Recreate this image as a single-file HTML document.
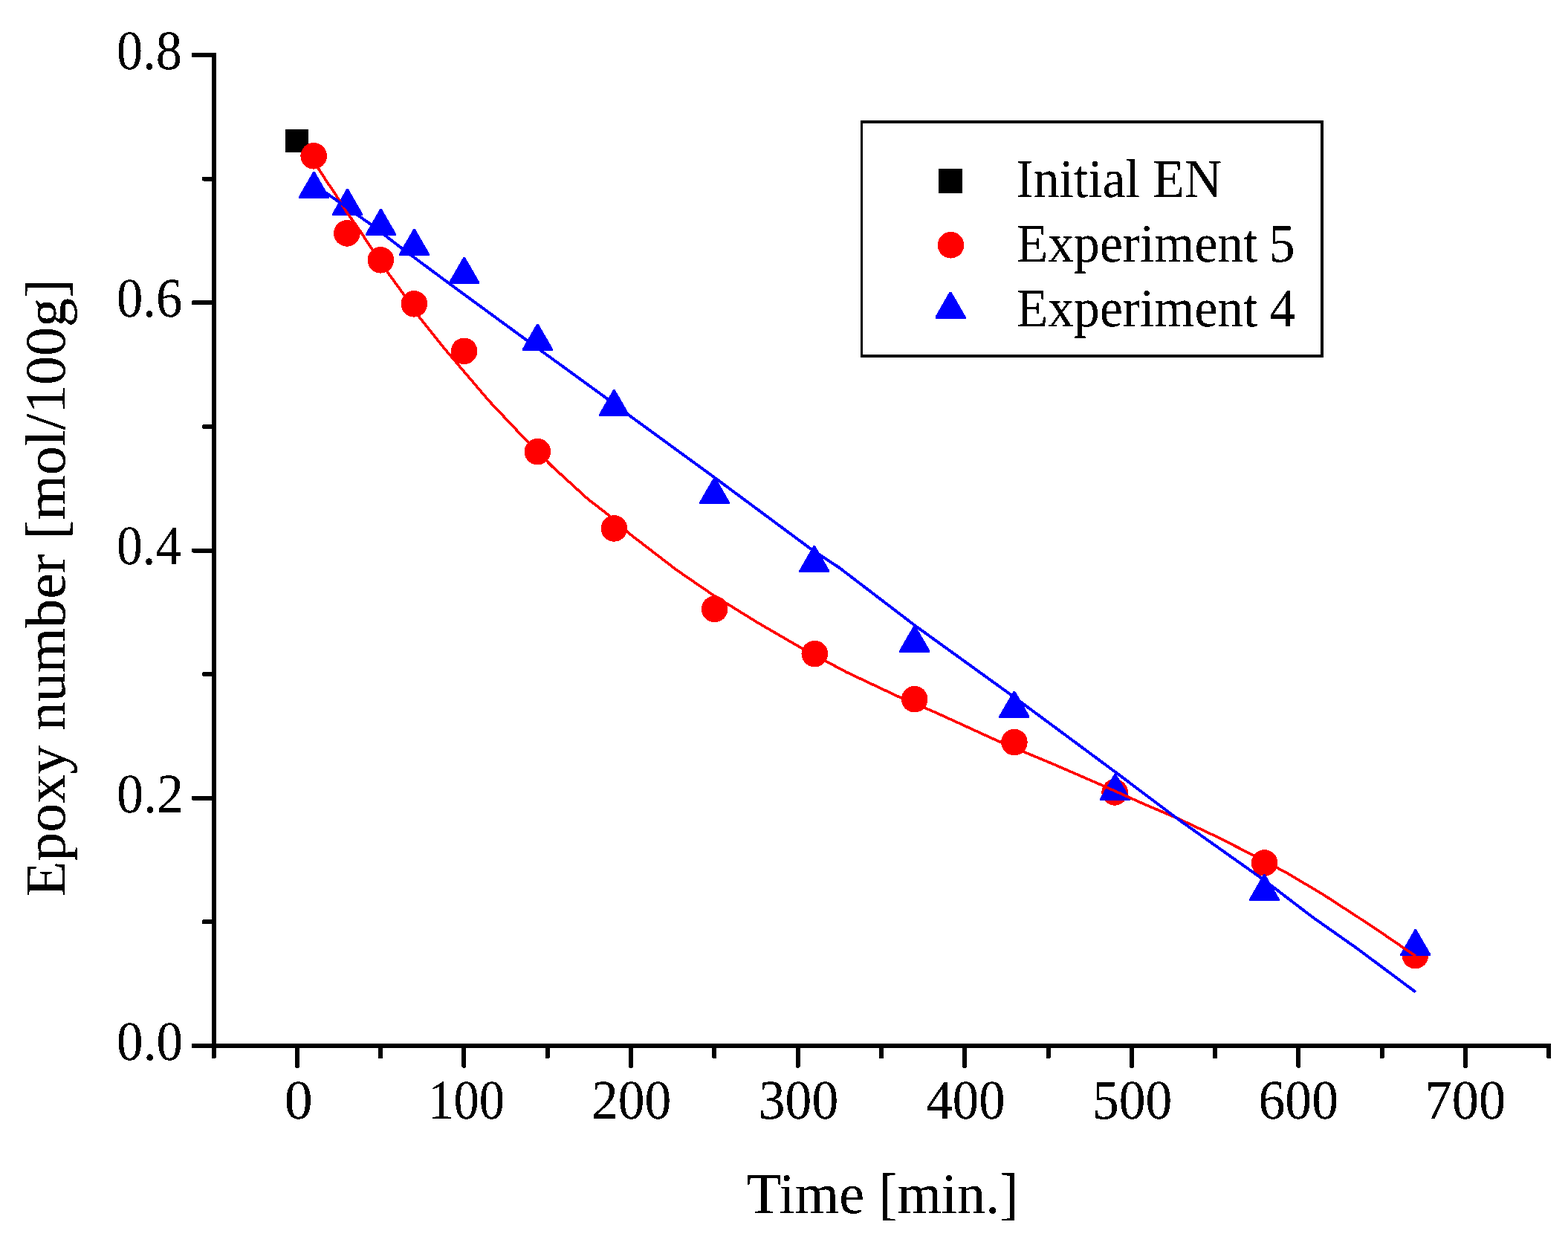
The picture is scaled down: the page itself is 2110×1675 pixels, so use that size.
<!DOCTYPE html>
<html lang="en">
<head>
<meta charset="utf-8">
<title>Epoxy number vs. time</title>
<style>
html,body{margin:0;padding:0;background:#fff;}
body{width:2110px;height:1675px;overflow:hidden;}
svg{display:block;}
</style>
</head>
<body>
<svg width="2110" height="1675" viewBox="0 0 2110 1675" shape-rendering="crispEdges">
<defs><filter id="crisp" filterUnits="userSpaceOnUse" x="0" y="0" width="2110" height="1675" color-interpolation-filters="sRGB"><feComponentTransfer><feFuncA type="discrete" tableValues="0 0 1 1 1"/></feComponentTransfer></filter></defs>
<rect x="0" y="0" width="2110" height="1675" fill="#fff"/>
<g id="markers">
<rect x="384.0" y="174.0" width="31" height="31" fill="#000"/>
<circle cx="422.2" cy="209.8" r="17.8" fill="#f00"/>
<circle cx="466.9" cy="313.9" r="17.8" fill="#f00"/>
<circle cx="512.4" cy="349.8" r="17.8" fill="#f00"/>
<circle cx="557.4" cy="408.8" r="17.8" fill="#f00"/>
<circle cx="624.6" cy="472.3" r="17.8" fill="#f00"/>
<circle cx="723.4" cy="607.7" r="17.8" fill="#f00"/>
<circle cx="826.4" cy="710.9" r="17.8" fill="#f00"/>
<circle cx="961.6" cy="819.4" r="17.8" fill="#f00"/>
<circle cx="1096.3" cy="879.6" r="17.8" fill="#f00"/>
<circle cx="1230.7" cy="940.7" r="17.8" fill="#f00"/>
<circle cx="1364.9" cy="998.6" r="17.8" fill="#f00"/>
<circle cx="1500.1" cy="1065.9" r="17.8" fill="#f00"/>
<circle cx="1701.6" cy="1161.0" r="17.8" fill="#f00"/>
<circle cx="1904.4" cy="1285.6" r="17.8" fill="#f00"/>
<polygon points="421.3,231.0 423.7,231.0 443.0,264.5 443.0,267.0 402.0,267.0 402.0,264.5" fill="#00f"/>
<polygon points="466.3,254.0 468.7,254.0 488.0,287.5 488.0,290.0 447.0,290.0 447.0,287.5" fill="#00f"/>
<polygon points="511.3,281.0 513.7,281.0 533.0,314.5 533.0,317.0 492.0,317.0 492.0,314.5" fill="#00f"/>
<polygon points="556.3,308.0 558.7,308.0 578.0,341.5 578.0,344.0 537.0,344.0 537.0,341.5" fill="#00f"/>
<polygon points="623.5,346.0 625.9,346.0 645.2,379.5 645.2,382.0 604.2,382.0 604.2,379.5" fill="#00f"/>
<polygon points="722.2,435.8 724.6,435.8 743.9,469.3 743.9,471.8 702.9,471.8 702.9,469.3" fill="#00f"/>
<polygon points="825.2,524.2 827.6,524.2 846.9,557.7 846.9,560.2 805.9,560.2 805.9,557.7" fill="#00f"/>
<polygon points="960.4,642.3 962.8,642.3 982.1,675.8 982.1,678.3 941.1,678.3 941.1,675.8" fill="#00f"/>
<polygon points="1094.6,734.2 1097.0,734.2 1116.3,767.7 1116.3,770.2 1075.3,770.2 1075.3,767.7" fill="#00f"/>
<polygon points="1229.5,841.6 1231.9,841.6 1251.2,875.1 1251.2,877.6 1210.2,877.6 1210.2,875.1" fill="#00f"/>
<polygon points="1363.7,929.8 1366.1,929.8 1385.4,963.3 1385.4,965.8 1344.4,965.8 1344.4,963.3" fill="#00f"/>
<polygon points="1499.4,1041.0 1501.8,1041.0 1521.1,1074.5 1521.1,1077.0 1480.1,1077.0 1480.1,1074.5" fill="#00f"/>
<polygon points="1700.2,1176.3 1702.6,1176.3 1721.9,1209.8 1721.9,1212.3 1680.9,1212.3 1680.9,1209.8" fill="#00f"/>
<polygon points="1903.6,1250.3 1906.0,1250.3 1925.3,1283.8 1925.3,1286.3 1884.3,1286.3 1884.3,1283.8" fill="#00f"/>
</g>
<g id="lines">
<polyline points="422.3,212.0 429.2,227.9 439.0,243.1 449.3,258.2 458.0,271.9 468.6,288.6 474.2,296.1 485.6,312.2 497.9,331.2 521.6,366.3 532.0,380.5 541.5,393.7 564.6,427.0 598.3,469.2 658.0,539.3 705.1,589.2 743.3,627.8 791.0,671.3 819.7,693.5 848.3,719.0 910.4,766.8 959.7,800.6 1019.4,837.6 1079.1,872.2 1138.8,904.2 1210.4,937.9 1258.2,958.2 1341.7,996.4 1419.4,1028.9 1491.0,1060.0 1538.8,1081.5 1586.5,1101.8 1634.3,1124.3 1682.0,1148.3 1729.8,1173.4 1780.0,1203.1 1797.9,1214.8 1824.8,1232.2 1860.6,1256.0 1887.4,1274.3 1904.6,1286.0" fill="none" stroke="#f00" stroke-width="3.6" stroke-linejoin="round"/>
<polyline points="437.9,258.9 499.0,301.9 541.0,334.3 604.1,381.1 709.8,458.5 814.9,534.9 848.3,560.0 958.2,640.0 1091.9,739.1 1129.2,763.6 1230.7,841.2 1363.2,936.8 1410.0,971.4 1500.6,1038.5 1586.5,1103.0 1701.1,1184.1 1766.4,1234.0 1825.7,1275.7 1904.8,1334.6" fill="none" stroke="#00f" stroke-width="3.9" stroke-linejoin="round"/>
</g>
<g id="axes" fill="#000">
<rect x="284.9" y="70.9" width="6.0" height="1339.1"/>
<rect x="284.9" y="1404.0" width="1802.4" height="6.0"/>
<rect x="258.0" y="1404.0" width="29.9" height="6.0" rx="1.5"/>
<rect x="272.3" y="1237.4" width="15.6" height="6.0" rx="1.5"/>
<rect x="258.0" y="1070.7" width="29.9" height="6.0" rx="1.5"/>
<rect x="272.3" y="904.1" width="15.6" height="6.0" rx="1.5"/>
<rect x="258.0" y="737.5" width="29.9" height="6.0" rx="1.5"/>
<rect x="272.3" y="570.8" width="15.6" height="6.0" rx="1.5"/>
<rect x="258.0" y="404.2" width="29.9" height="6.0" rx="1.5"/>
<rect x="272.3" y="237.5" width="15.6" height="6.0" rx="1.5"/>
<rect x="258.0" y="70.9" width="29.9" height="6.0" rx="1.5"/>
<rect x="284.5" y="1407.0" width="6.0" height="17.0" rx="1.5"/>
<rect x="396.8" y="1407.0" width="6.0" height="29.6" rx="1.5"/>
<rect x="509.1" y="1407.0" width="6.0" height="17.0" rx="1.5"/>
<rect x="621.4" y="1407.0" width="6.0" height="29.6" rx="1.5"/>
<rect x="733.7" y="1407.0" width="6.0" height="17.0" rx="1.5"/>
<rect x="846.0" y="1407.0" width="6.0" height="29.6" rx="1.5"/>
<rect x="958.3" y="1407.0" width="6.0" height="17.0" rx="1.5"/>
<rect x="1070.6" y="1407.0" width="6.0" height="29.6" rx="1.5"/>
<rect x="1182.9" y="1407.0" width="6.0" height="17.0" rx="1.5"/>
<rect x="1295.2" y="1407.0" width="6.0" height="29.6" rx="1.5"/>
<rect x="1407.5" y="1407.0" width="6.0" height="17.0" rx="1.5"/>
<rect x="1519.8" y="1407.0" width="6.0" height="29.6" rx="1.5"/>
<rect x="1632.1" y="1407.0" width="6.0" height="17.0" rx="1.5"/>
<rect x="1744.4" y="1407.0" width="6.0" height="29.6" rx="1.5"/>
<rect x="1856.7" y="1407.0" width="6.0" height="17.0" rx="1.5"/>
<rect x="1969.0" y="1407.0" width="6.0" height="29.6" rx="1.5"/>
<rect x="2081.3" y="1407.0" width="6.0" height="17.0" rx="1.5"/>
</g>
<g id="legend" fill="#000">
<rect x="1158" y="162" width="623" height="4"/><rect x="1158" y="477" width="623" height="4"/><rect x="1158" y="162" width="3" height="319"/><rect x="1777" y="162" width="4" height="319"/>
<rect x="1263" y="227" width="32" height="32.5" fill="#000"/>
<circle cx="1279.5" cy="329.7" r="17.8" fill="#f00"/>
<polygon points="1277.8,392.5 1280.2,392.5 1299.5,426.0 1299.5,428.5 1258.5,428.5 1258.5,426.0" fill="#00f"/>
</g>
<g id="labels" font-family="'Liberation Serif', 'Times New Roman', serif" fill="#000" filter="url(#crisp)" style="text-rendering:geometricPrecision">
<text transform="matrix(0.9368 0 0 1.0000 157.09 92.90)" font-size="75">0.8</text>
<text transform="matrix(0.9412 0 0 1.0000 156.98 426.18)" font-size="75">0.6</text>
<text transform="matrix(0.9294 0 0 1.0000 157.01 759.45)" font-size="75">0.4</text>
<text transform="matrix(0.9616 0 0 1.0000 156.92 1092.72)" font-size="75">0.2</text>
<text transform="matrix(0.9493 0 0 1.0000 157.05 1426.00)" font-size="75">0.0</text>
<text transform="matrix(1.0127 0 0 1.0000 382.66 1505.30)" font-size="75">0</text>
<text transform="matrix(0.9139 0 0 1.0000 576.23 1505.30)" font-size="75">100</text>
<text transform="matrix(0.9527 0 0 1.0000 795.98 1505.30)" font-size="75">200</text>
<text transform="matrix(0.9541 0 0 1.0000 1020.82 1505.30)" font-size="75">300</text>
<text transform="matrix(0.9435 0 0 1.0000 1246.48 1505.30)" font-size="75">400</text>
<text transform="matrix(0.9533 0 0 1.0000 1470.01 1505.30)" font-size="75">500</text>
<text transform="matrix(0.9545 0 0 1.0000 1693.58 1505.30)" font-size="75">600</text>
<text transform="matrix(0.9644 0 0 1.0000 1917.60 1505.30)" font-size="75">700</text>
<text transform="matrix(0.9909 0 0 1.0000 1004.67 1632.20)" font-size="77">Time [min.]</text>
<text transform="translate(87.30 1206.24) rotate(-90) scale(1.0122 1.0000)" font-size="77">Epoxy number [mol/100g]</text>
<text transform="matrix(0.9542 0 0 1.0000 1367.46 265.20)" font-size="73">Initial EN</text>
<text transform="matrix(0.9533 0 0 1 1367.81 352.20)" font-size="73" style="word-spacing:-2.25px">Experiment 5</text>
<text transform="matrix(0.9533 0 0 1 1367.81 438.80)" font-size="73" style="word-spacing:-1.51px">Experiment 4</text>
</g>
</svg>
</body>
</html>
